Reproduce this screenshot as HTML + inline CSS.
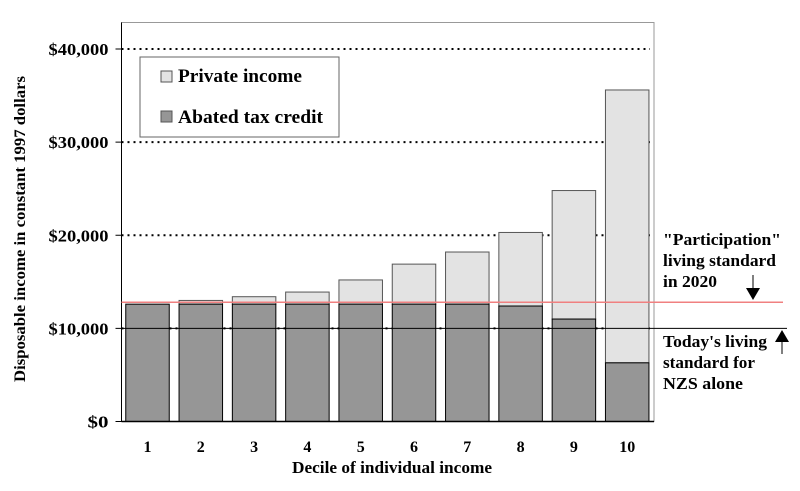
<!DOCTYPE html>
<html><head><meta charset="utf-8"><style>
html,body{margin:0;padding:0;background:#fff;}
svg{display:block;font-family:"Liberation Serif",serif;font-weight:bold;}
</style></head><body>
<svg id="c" width="800" height="491" viewBox="0 0 800 491"></svg>
<script>
const deciles=["1","2","3","4","5","6","7","8","9","10"];
const taxCredit=[12600,12600,12600,12600,12600,12600,12600,12400,11000,6300];
const totalIncome=[12600,13000,13400,13900,15200,16900,18200,20300,24800,35600];
const yTicks=[0,10000,20000,30000,40000];
const yTickLabels=["$0","$10,000","$20,000","$30,000","$40,000"];
const participationLevel=12800;
const todayLevel=10000;

const NS="http://www.w3.org/2000/svg";
const svg=document.getElementById('c');
const L=121.5,R=654,T=22.5,B=421.5;
const y=v=>B-v*(B-49)/40000;
const step=53.3, bw=43.5;
const xc=i=>147.5+i*step;
function mk(tag,attrs,parent){const e=document.createElementNS(NS,tag);for(const k in attrs)e.setAttribute(k,attrs[k]);(parent||svg).appendChild(e);return e;}

const frame=mk('rect',{x:L,y:T,width:R-L,height:B-T,fill:'#fff',stroke:'#999','stroke-width':1});



yTicks.forEach((t,i)=>{
  if(t>0){const g=mk('line',{x1:L,x2:R-4,y1:y(t),y2:y(t),stroke:'#000','stroke-width':2,'stroke-dasharray':'2,4'});
  
  }
  const tk=mk('line',{x1:L-6,x2:L,y1:y(t),y2:y(t),stroke:'#000'});
  
  
  const tx=mk('text',{x:L-13,y:y(t)+6,'text-anchor':'end','font-size':16.5,textLength:(yTickLabels[i].length>2?60:21),lengthAdjust:'spacingAndGlyphs'});
  tx.textContent=yTickLabels[i];
  
  
});

deciles.forEach((d,i)=>{
  const x0=xc(i)-bw/2;
  const p=mk('rect',{x:x0,y:y(totalIncome[i]),width:bw,height:y(taxCredit[i])-y(totalIncome[i]),fill:'#e3e3e3',stroke:'#555','stroke-width':1});
  
  
  const a=mk('rect',{x:x0,y:y(taxCredit[i]),width:bw,height:B-y(taxCredit[i]),fill:'#969696',stroke:'#000','stroke-width':1});
  
  
  const t=mk('text',{x:xc(i),y:452,'text-anchor':'middle','font-size':16});
  t.textContent=d;
  
  
});

const ax=mk('line',{x1:L,x2:R,y1:B,y2:B,stroke:'#000','stroke-width':1.5});


const ay=mk('line',{x1:L,x2:L,y1:T,y2:B,stroke:'#000','stroke-width':1});



const red=mk('line',{x1:L,x2:783,y1:y(participationLevel),y2:y(participationLevel),stroke:'#f08080','stroke-width':1.5});


const blk=mk('line',{x1:L,x2:787,y1:y(todayLevel),y2:y(todayLevel),stroke:'#000','stroke-width':1});



// legend
const lg=mk('g',{});


mk('rect',{x:140,y:57,width:199,height:80,fill:'#fff',stroke:'#666'},lg);
mk('rect',{x:161,y:71,width:11,height:11,fill:'#e3e3e3',stroke:'#555'},lg);
mk('rect',{x:161,y:111,width:11,height:11,fill:'#969696',stroke:'#555'},lg);
const l1=mk('text',{x:178,y:82,'font-size':18.5,textLength:124,lengthAdjust:'spacingAndGlyphs'},lg);l1.textContent='Private income';


const l2=mk('text',{x:178,y:123,'font-size':18.5,textLength:145,lengthAdjust:'spacingAndGlyphs'},lg);l2.textContent='Abated tax credit';



// annotations
function ann(lines,lens,y0,name){const t=mk('text',{x:663,y:y0,'font-size':17});
 lines.forEach((s,i)=>{const ts=mk('tspan',{x:663,y:y0+i*21,textLength:lens[i],lengthAdjust:'spacingAndGlyphs'},t);ts.textContent=s;});}
ann(['"Participation"','living standard','in 2020'],[118,113,54],245,'participation-annotation');
ann(['Today\'s living','standard for','NZS alone'],[104,92,80],347,'today-annotation');
const a1=mk('g',{});
mk('line',{x1:753,x2:753,y1:275,y2:290,stroke:'#000'},a1);
mk('polygon',{points:'746,288 760,288 753,300',fill:'#000'},a1);
const a2=mk('g',{});
mk('line',{x1:782,x2:782,y1:340,y2:354,stroke:'#000'},a2);
mk('polygon',{points:'775,342 789,342 782,330',fill:'#000'},a2);

const xt=mk('text',{x:392,y:473,'text-anchor':'middle','font-size':16.5,textLength:200,lengthAdjust:'spacingAndGlyphs'});
xt.textContent='Decile of individual income';


const yt=mk('text',{x:0,y:0,'text-anchor':'middle','font-size':16,transform:'translate(25,229) rotate(-90)',textLength:306,lengthAdjust:'spacingAndGlyphs'});
yt.textContent='Disposable income in constant 1997 dollars';


</script>
</body></html>
